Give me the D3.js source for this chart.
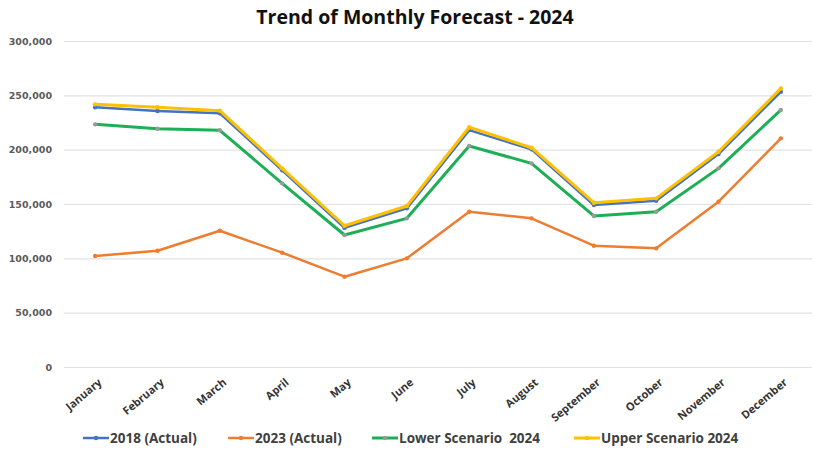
<!DOCTYPE html>
<html>
<head>
<meta charset="utf-8">
<script src="https://cdn.jsdelivr.net/npm/d3@7"></script>
<style>
  body { margin: 0; background: #fff; }
  svg { display: block; }
</style>
</head>
<body>
<div id="chart"></div>
<script>
// data
var months = ["January", "February", "March", "April", "May", "June",
  "July", "August", "September", "October", "November", "December"];
var actual2018 = [239000, 235600, 233400, 181000, 128000, 146000,
  218000, 200300, 149100, 153000, 196000, 253300];
var actual2023 = [102100, 107000, 125400, 105200, 83100, 100000,
  142900, 136800, 111600, 109200, 152100, 210400];
var lower2024 = [223300, 219300, 217800, 169000, 121500, 136800,
  203400, 187400, 139000, 142900, 182800, 236500];
var upper2024 = [241700, 239000, 235900, 182800, 130000, 148200,
  220600, 201800, 151200, 155200, 198100, 256400];
var yTicks = [0, 50000, 100000, 150000, 200000, 250000, 300000];

var series = [
  { name: "2018 (Actual)", values: actual2018, color: "#4472C4", marker: "#4472C4", width: 2.5 },
  { name: "2023 (Actual)", values: actual2023, color: "#ED7D31", marker: "#ED7D31", width: 2.5 },
  { name: "Lower Scenario  2024", values: lower2024, color: "#1DAF55", marker: "#9a9a9a", width: 3 },
  { name: "Upper Scenario 2024", values: upper2024, color: "#FFC000", marker: "#FFC000", width: 3 }
];

var svgWidth = 814;
var svgHeight = 450;
var margin = { top: 41, right: 2, bottom: 83, left: 64 };
var width = svgWidth - margin.left - margin.right;
var height = svgHeight - margin.top - margin.bottom;

var svg = d3.select("#chart")
  .append("svg")
  .attr("width", svgWidth)
  .attr("height", svgHeight);

// title
svg.append("text")
  .attr("x", 415)
  .attr("y", 24)
  .attr("text-anchor", "middle")
  .style("font-family", "'Open Sans', sans-serif")
  .style("font-weight", "bold")
  .style("font-size", "19.5px")
  .style("fill", "#111")
  .text("Trend of Monthly Forecast - 2024");

var chartGroup = svg.append("g")
  .attr("transform", `translate(${margin.left}, ${margin.top})`);

var xScale = d3.scalePoint()
  .domain(months)
  .range([0, width])
  .padding(0.5);

var yScale = d3.scaleLinear()
  .domain([0, 300000])
  .range([height, 0]);

// gridlines + y labels
var leftAxis = d3.axisLeft(yScale)
  .tickValues(yTicks)
  .tickSize(-width)
  .tickPadding(12)
  .tickFormat(d3.format(","));

var yAxisG = chartGroup.append("g").call(leftAxis);
yAxisG.select(".domain").remove();
yAxisG.selectAll("line").attr("stroke", "#e2e2e2").attr("stroke-width", 1.2);
yAxisG.selectAll("text")
  .style("font-family", "'DejaVu Sans', sans-serif")
  .style("font-weight", "bold")
  .style("font-size", "9.5px")
  .style("fill", "#5a5a5a");

// x labels
var bottomAxis = d3.axisBottom(xScale).tickSize(0).tickPadding(6);
var xAxisG = chartGroup.append("g")
  .attr("transform", `translate(0, ${height})`)
  .call(bottomAxis);
xAxisG.select(".domain").remove();
xAxisG.selectAll("text")
  .attr("text-anchor", "end")
  .attr("dy", 0)
  .attr("transform", "translate(3, 12) rotate(-40)")
  .style("font-family", "'Open Sans', sans-serif")
  .style("font-weight", "bold")
  .style("font-size", "11px")
  .style("fill", "#333");

var line = d3.line()
  .x((d, i) => xScale(months[i]))
  .y(d => yScale(d));

series.forEach(function(s) {
  chartGroup.append("path")
    .datum(s.values)
    .attr("fill", "none")
    .attr("stroke", s.color)
    .attr("stroke-width", s.width)
    .attr("stroke-linejoin", "round")
    .attr("d", line);

  chartGroup.selectAll(null)
    .data(s.values)
    .enter()
    .append("circle")
    .attr("cx", (d, i) => xScale(months[i]))
    .attr("cy", d => yScale(d))
    .attr("r", 2.2)
    .attr("fill", s.marker);
});

// legend
var legendX = [83, 228, 372, 574];
var legend = svg.append("g").attr("transform", "translate(0, 438)");
series.forEach(function(s, i) {
  var g = legend.append("g").attr("transform", `translate(${legendX[i]}, 0)`);
  g.append("line")
    .attr("x1", 0).attr("x2", 26)
    .attr("y1", 0).attr("y2", 0)
    .attr("stroke", s.color)
    .attr("stroke-width", s.width);
  g.append("circle")
    .attr("cx", 13).attr("cy", 0).attr("r", 2.2)
    .attr("fill", s.marker);
  g.append("text")
    .attr("x", 27)
    .attr("y", 5)
    .style("font-family", "'Open Sans', sans-serif")
    .style("font-weight", "bold")
    .style("font-size", "13.5px")
    .style("fill", "#404040")
    .style("white-space", "pre")
    .text(s.name);
});
</script>
</body>
</html>
